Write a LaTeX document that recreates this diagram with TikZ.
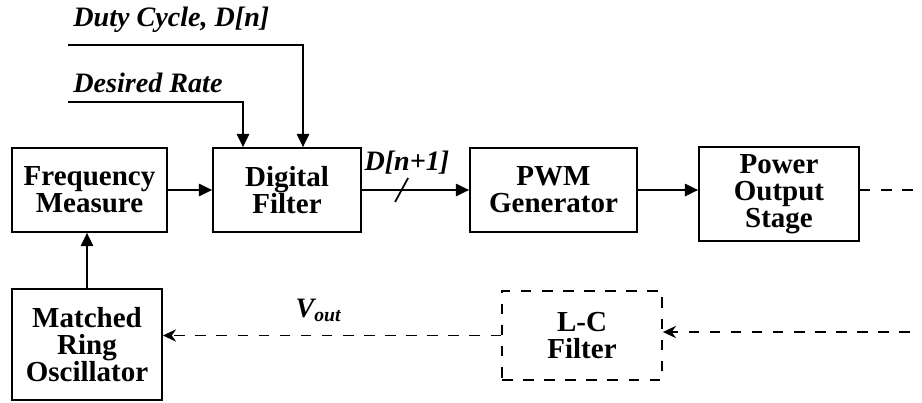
\documentclass[tikz,border=0pt]{standalone}
\usepackage{fontspec}
\setmainfont{Liberation Serif}
\usetikzlibrary{arrows.meta,calc}

\begin{document}
\begin{tikzpicture}[
  blk/.style={draw, line width=1pt, inner sep=0pt, align=center,
    font=\fontsize{16.5}{15.5}\selectfont\bfseries},
  lbl/.style={inner sep=0pt, font=\fontsize{16}{16}\selectfont\bfseries\itshape},
  arr/.style={line width=1pt, -{Triangle[length=7.5pt,width=7pt]}},
  dline/.style={line width=0.9pt, dash pattern=on 6pt off 6pt},
  darr/.style={dline, -{Stealth[length=7.5pt,width=7pt]}}]
  \useasboundingbox (0,0) rectangle (18.44,8.04);
  % forward path
  \node[blk, minimum width=3.10cm, minimum height=1.68cm] (freq) at (1.79,4.24) {Frequency\\Measure};
  \node[blk, minimum width=2.96cm, minimum height=1.68cm] (filt) at (5.74,4.24) {Digital\\Filter};
  \node[blk, minimum width=3.34cm, minimum height=1.68cm] (pwm) at (11.07,4.24) {PWM\\Generator};
  \node[blk, minimum width=3.20cm, minimum height=1.88cm] (power) at (15.58,4.16) {Power\\Output\\Stage};
  % feedback path
  \node[blk, minimum width=3.00cm, minimum height=2.22cm] (ring) at (1.74,1.15) {Matched\\Ring\\Oscillator};
  \node[blk, dash pattern=on 6pt off 6pt, minimum width=3.20cm, minimum height=1.78cm] (lc) at (11.64,1.33) {L-C\\Filter};
  % inputs to the filter
  \node[lbl, anchor=base west] (duty) at (1.46,7.52) {Duty Cycle, D[n]};
  \node[lbl, anchor=base west] (rate) at (1.46,6.20) {Desired Rate};
  \coordinate (dutyin) at (1.36,7.14);
  \coordinate (ratein) at (1.36,6.00);
  \draw[arr] (dutyin) -| ([xshift=0.32cm]filt.north);
  \draw[arr] (ratein) -| ([xshift=-0.88cm]filt.north);
  % connections
  \draw[arr] (freq) -- (filt);
  \draw[arr] (filt) -- node[lbl, above=0.3cm, pos=0.42] (dnext) {D[n+1]} (pwm);
  \draw[line width=1pt] ($(filt.east)!0.37!(pwm.west)$) +(-0.13,-0.24) -- +(0.13,0.24);
  \draw[arr] (pwm) -- (pwm.east -| power.west);
  \draw[arr] (ring) -- (ring.north |- freq.south);
  \coordinate (pwrout) at (18.40,4.24);
  \draw[dline] (power.east |- pwrout) -- (pwrout);
  \coordinate (lcin) at (18.20,1.40);
  \draw[darr] (lcin) -- (lcin -| lc.east);
  \draw[darr] (lc.west) -- node[lbl, above=0.25cm, pos=0.54] (vout) {V\textsubscript{out}} (lc.west -| ring.east);
\end{tikzpicture}
\end{document}
